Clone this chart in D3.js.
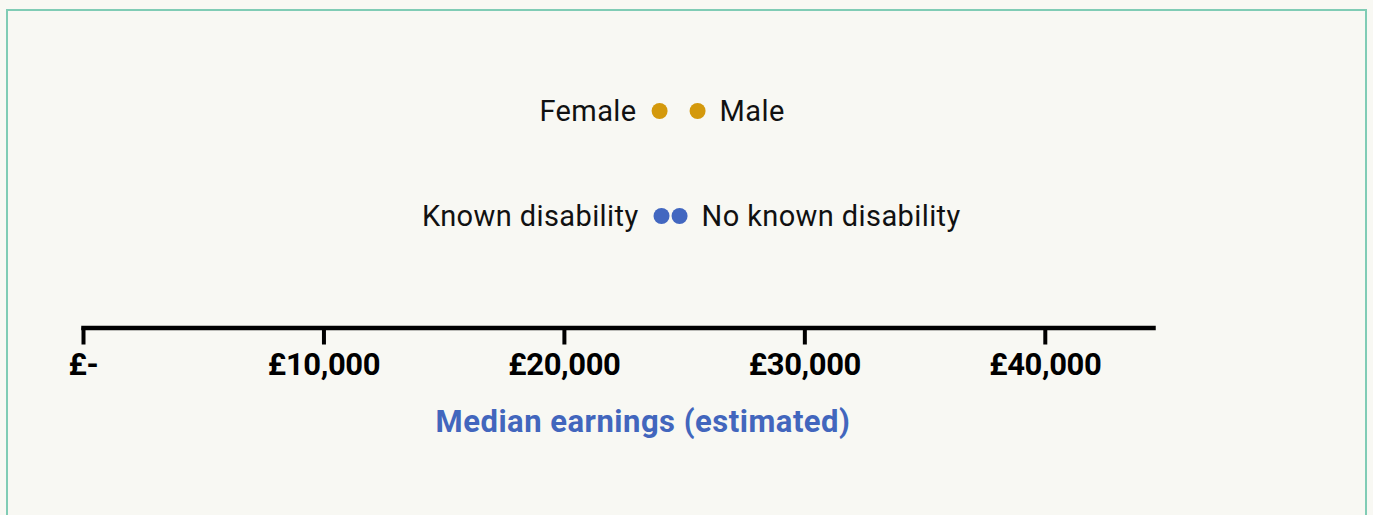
<!DOCTYPE html>
<html>
<head>
<meta charset="utf-8">
<script src="https://cdn.jsdelivr.net/npm/d3@7"></script>
<style>
	body { margin: 0; background: #f8f8f3; }
	svg { display: block; font-family: Roboto, "Noto Sans", sans-serif; }
</style>
</head>
<body>
<svg></svg>
<script>
// dumbbell rows: [label low, label high], values in £
const groups = ["sex", "disability"];
const lowLabels = ["Female", "Known disability"];
const highLabels = ["Male", "No known disability"];
const lowValues = [23980, 24060];
const highValues = [25560, 24810];
const rowColours = ["#d4990c", "#4267c0"];
const tickValues = [0, 10000, 20000, 30000, 40000];
const xMax = 44500;
const axisTitle = "Median earnings (estimated)";

const width = 1373;
const height = 515;

const svg = d3.select("svg").attr("width", width).attr("height", height);

svg.append("rect")
	.attr("x", 7)
	.attr("y", 10)
	.attr("width", 1359)
	.attr("height", 600)
	.attr("fill", "#f8f8f3")
	.attr("stroke", "#80ccb5")
	.attr("stroke-width", 2);

const xScale = d3.scaleLinear().domain([0, xMax]).range([83, 1153]);
const yScale = d3.scalePoint().domain(groups).range([111, 216]);

const xAxis = d3
	.axisBottom(xScale)
	.tickValues(tickValues)
	.tickSizeInner(17)
	.tickSizeOuter(0)
	.tickPadding(8)
	.tickFormat((d) => (d === 0 ? "£-" : "£" + d3.format(",")(d)));

const axisG = svg.append("g").attr("transform", "translate(0, 327.5)").call(xAxis);
axisG.select(".domain")
	.attr("stroke", "#000")
	.attr("stroke-width", 4.5)
	.attr("stroke-linecap", "square");
axisG.selectAll(".tick line").attr("stroke", "#000").attr("stroke-width", 4);
axisG.selectAll(".tick text")
	.attr("fill", "#000")
	.style("font-family", "Roboto, sans-serif")
	.style("font-size", "31px")
	.style("font-weight", "bold")
	.style("letter-spacing", "-0.4px");

svg.append("text")
	.attr("x", 643)
	.attr("y", 432)
	.attr("text-anchor", "middle")
	.attr("fill", "#4266bd")
	.style("font-size", "31px")
	.style("font-weight", "bold")
	.style("letter-spacing", "0.5px")
	.text(axisTitle);

const rows = svg.selectAll("g.row")
	.data(groups)
	.enter()
	.append("g")
	.attr("class", "row")
	.attr("transform", (d) => `translate(0, ${yScale(d)})`);

rows.append("circle")
	.attr("cx", (_, i) => xScale(lowValues[i]))
	.attr("r", 8)
	.attr("fill", (_, i) => rowColours[i]);

rows.append("circle")
	.attr("cx", (_, i) => xScale(highValues[i]))
	.attr("r", 8)
	.attr("fill", (_, i) => rowColours[i]);

rows.append("text")
	.attr("x", (_, i) => xScale(lowValues[i]) - 23)
	.attr("y", 10)
	.attr("text-anchor", "end")
	.attr("fill", "#111")
	.style("font-size", "29px")
	.style("letter-spacing", "0.4px")
	.text((_, i) => lowLabels[i]);

rows.append("text")
	.attr("x", (_, i) => xScale(highValues[i]) + 22)
	.attr("y", 10)
	.attr("text-anchor", "start")
	.attr("fill", "#111")
	.style("font-size", "29px")
	.style("letter-spacing", "0.4px")
	.text((_, i) => highLabels[i]);
</script>
</body>
</html>
